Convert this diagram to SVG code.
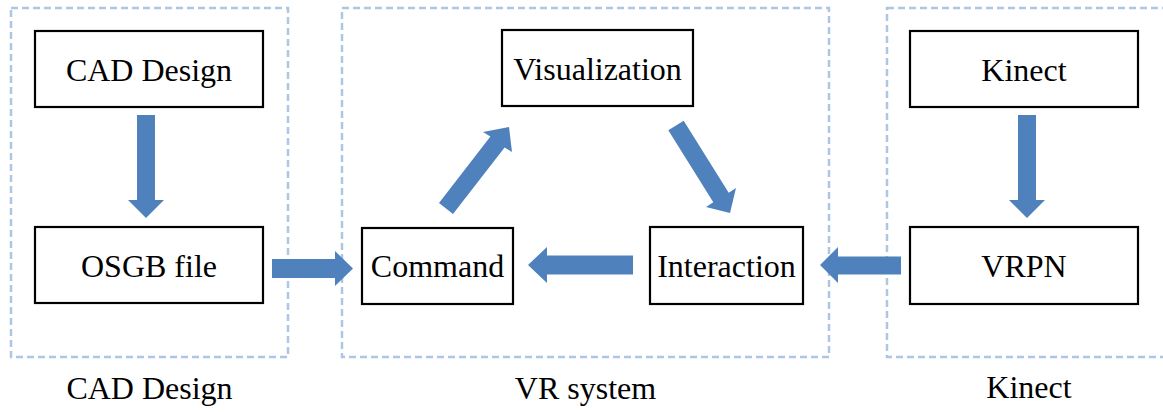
<svg xmlns="http://www.w3.org/2000/svg" width="1163" height="412" viewBox="0 0 1163 412">
<style>
.grp{fill:none;stroke:#adc6e3;stroke-width:2.5;stroke-dasharray:7,4}
.box{fill:#fff;stroke:#000;stroke-width:2.2}
.t{font-size:32px;fill:#000;text-anchor:middle}
.arr{fill:#4f81bd}
</style>
<rect width="1163" height="412" fill="#fff"/>
<g id="groups" font-family="'Liberation Serif', 'Times New Roman', 'DejaVu Serif', serif">
<rect class="grp" x="11" y="8" width="277" height="349"/>
<rect class="grp" x="342" y="8" width="487" height="349"/>
<rect class="grp" x="887" y="8" width="290" height="349"/>
<text class="t" x="149.5" y="399">CAD Design</text>
<text class="t" x="585.5" y="399">VR system</text>
<text class="t" x="1029" y="398">Kinect</text>
</g>
<g id="connectors">
<polygon class="arr" points="137,115 155,115 155,200 164,200 146,218 128,200 137,200"/>
<polygon class="arr" points="1018,115 1036,115 1036,200 1045,200 1027,218 1009,200 1018,200"/>
<polygon class="arr" points="272,259 335,259 335,251 353,268.5 335,286 335,278 272,278"/>
<polygon class="arr" points="633,255.5 547,255.5 547,247 528,265 547,283 547,274.5 633,274.5"/>
<polygon class="arr" points="901,256.5 838,256.5 838,247 820,265 838,283 838,274.5 901,274.5"/>
<polygon class="arr" points="439,203 490.4,136.5 483,132 509,127 512,152 504.6,147.5 453,214"/>
<polygon class="arr" points="668.3,130.2 713.3,202.2 706,207 730,213 736,188 728.7,192.8 683.7,120.8"/>
</g>
<g id="nodes" font-family="'Liberation Serif', 'Times New Roman', 'DejaVu Serif', serif">
<g id="cad"><rect class="box" x="35" y="31" width="228" height="76"/><text class="t" x="149" y="81">CAD Design</text></g>
<g id="osgb"><rect class="box" x="35" y="227" width="228" height="76"/><text class="t" x="149" y="277">OSGB file</text></g>
<g id="visualization"><rect class="box" x="502" y="30" width="191" height="76"/><text class="t" x="597.5" y="80">Visualization</text></g>
<g id="command"><rect class="box" x="362" y="228" width="151" height="76"/><text class="t" x="437.5" y="277">Command</text></g>
<g id="interaction"><rect class="box" x="650" y="227" width="153" height="77"/><text class="t" x="726.5" y="277">Interaction</text></g>
<g id="kinect"><rect class="box" x="910" y="31" width="228" height="76"/><text class="t" x="1024" y="81">Kinect</text></g>
<g id="vrpn"><rect class="box" x="910" y="227" width="228" height="77"/><text class="t" x="1024" y="277">VRPN</text></g>
</g>
</svg>
